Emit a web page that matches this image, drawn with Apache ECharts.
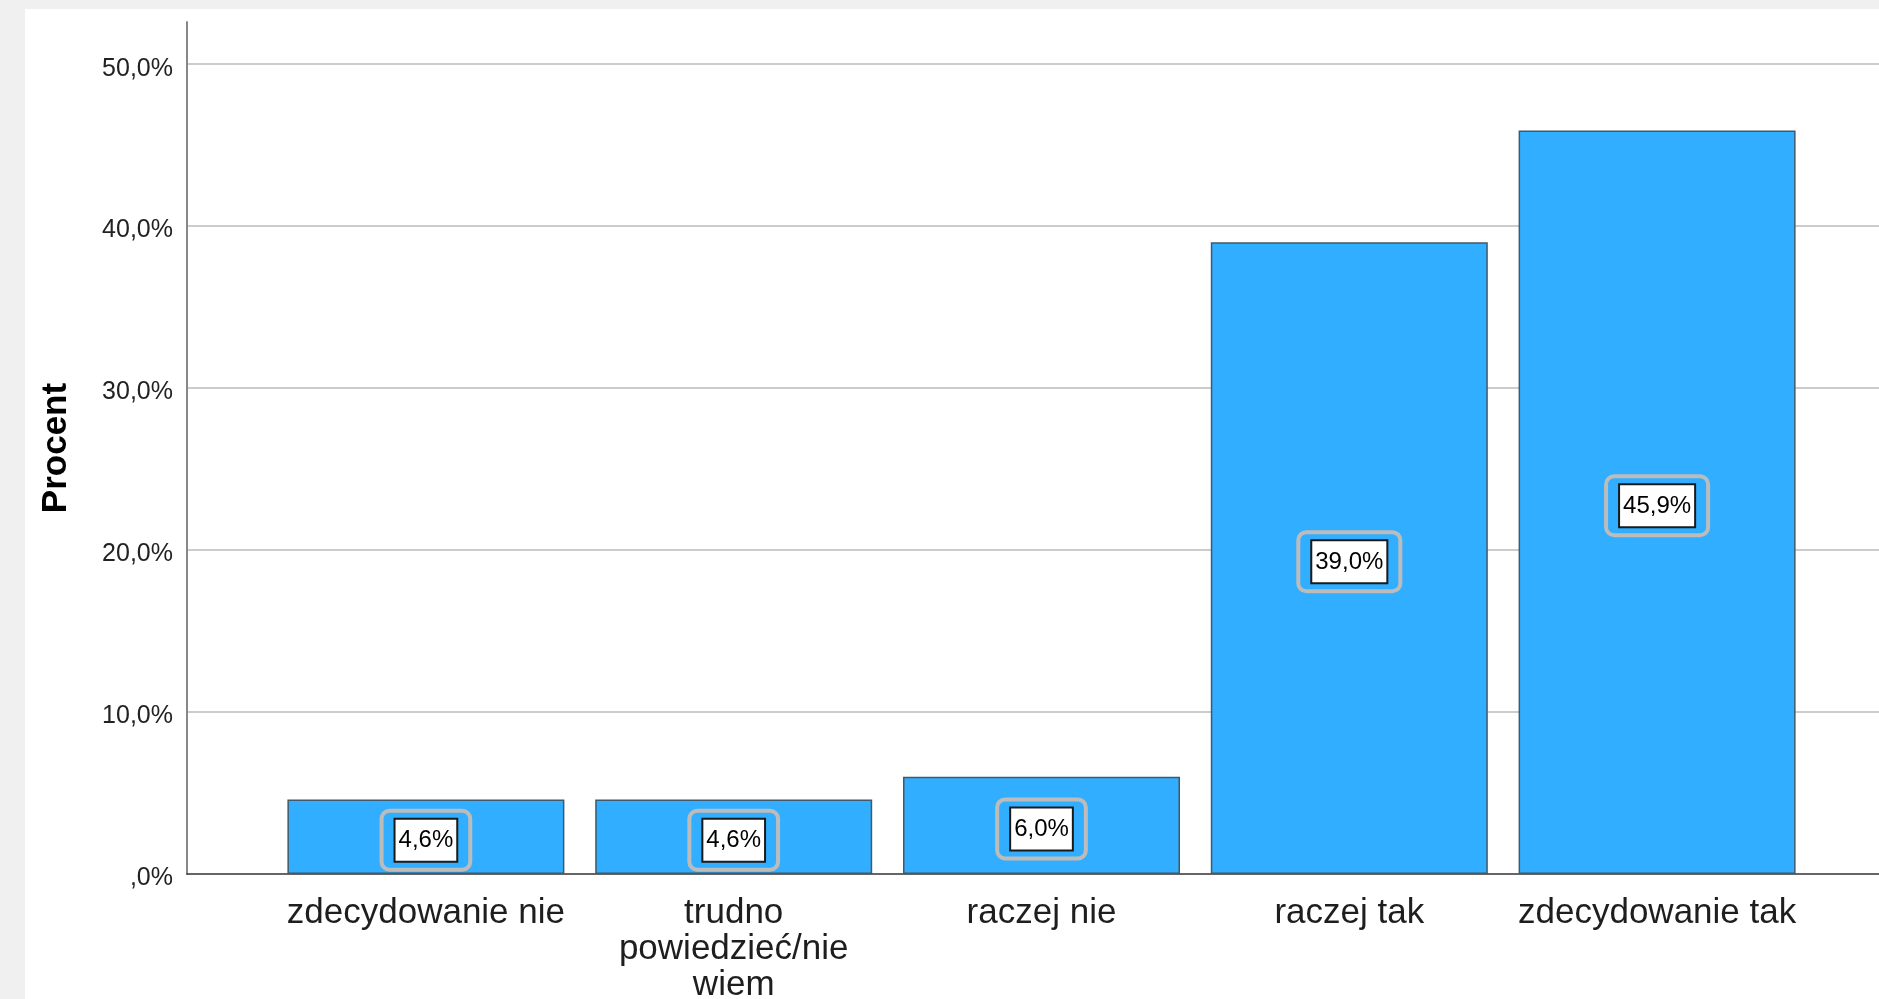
<!DOCTYPE html>
<html>
<head>
<meta charset="utf-8">
<script src="https://cdn.jsdelivr.net/npm/echarts@6/dist/echarts.min.js"></script>
<style>
  html, body { margin: 0; padding: 0; background: #f0f0f0; width: 1879px; height: 999px; overflow: hidden; }
  #chart { position: absolute; left: 25px; top: 9px; width: 1854px; height: 990px; }
</style>
</head>
<body>
<div id="chart"></div>
<script>
const categories = ['zdecydowanie nie', 'trudno powiedzieć/nie wiem', 'raczej nie', 'raczej tak', 'zdecydowanie tak'];
const percentValues = [4.6, 4.6, 6.0, 39.0, 45.9];
const valueLabels = ['4,6%', '4,6%', '6,0%', '39,0%', '45,9%'];
const yTickValues = [0, 10, 20, 30, 40, 50];
const yTickLabels = [',0%', '10,0%', '20,0%', '30,0%', '40,0%', '50,0%'];
const yAxisTitle = 'Procent';

const chart = echarts.init(document.getElementById('chart'), null, { renderer: 'canvas' });
const FONT = '"Liberation Sans", Arial, sans-serif';
const yMax = 52.6;

chart.setOption({
  backgroundColor: '#ffffff',
  animation: false,
  grid: [
    { left: 162, right: 0, top: 13, bottom: 125, outerBoundsMode: 'none', containLabel: false },
    { left: 247, right: 68, top: 13, bottom: 125, outerBoundsMode: 'none', containLabel: false }
  ],
  xAxis: [
    {
      type: 'category', gridIndex: 0, data: categories,
      axisLine: { show: true, lineStyle: { color: '#333333', width: 1.5 } },
      axisTick: { show: false }, axisLabel: { show: false }, splitLine: { show: false }
    },
    {
      type: 'category', gridIndex: 1, data: categories,
      axisLine: { show: false }, axisTick: { show: false },
      axisLabel: {
        show: true, interval: 0, margin: 21,
        fontFamily: FONT, fontSize: 35, lineHeight: 36, color: '#1e1e1e',
        formatter: function (v) { return v.length > 20 ? v.split(' ').join('\n') : v; }
      }
    }
  ],
  yAxis: [
    {
      type: 'value', gridIndex: 0, min: 0, max: yMax, interval: 10,
      name: yAxisTitle, nameLocation: 'middle', nameGap: 113, nameRotate: 90,
      nameTextStyle: { fontFamily: FONT, fontSize: 35, fontWeight: 'bold', color: '#000000' },
      axisLine: { show: true, lineStyle: { color: '#888888', width: 2 } },
      axisTick: { show: false },
      axisLabel: {
        margin: 14, showMaxLabel: false,
        formatter: function (v) {
          const i = yTickValues.indexOf(Math.round(v));
          return i >= 0 && Math.abs(v - yTickValues[i]) < 1e-6 ? '{t|' + yTickLabels[i] + '}' : '';
        },
        rich: {
          t: { fontFamily: FONT, fontSize: 25, color: '#222222', padding: [9, 0, 0, 0] }
        }
      },
      splitLine: { show: true, showMaxLine: false, showMinLine: false, lineStyle: { color: '#cccccc', width: 2 } }
    },
    {
      type: 'value', gridIndex: 1, min: 0, max: yMax, interval: 10, show: false,
      splitLine: { show: false }
    }
  ],
  series: [
    {
      type: 'bar', xAxisIndex: 1, yAxisIndex: 1,
      data: percentValues, barWidth: 277,
      itemStyle: { color: '#31aeff', borderColor: '#40596b', borderWidth: 1.5 },
      label: {
        show: true, position: 'inside', offset: [0, 3.5],
        formatter: function (p) { return '{v|' + valueLabels[p.dataIndex] + '}'; },
        padding: [9, 14, 9, 14], borderColor: '#bcbcbc', borderWidth: 2, borderRadius: 8,
        backgroundColor: 'transparent',
        rich: {
          v: {
            fontFamily: FONT, fontSize: 24, color: '#000000',
            backgroundColor: '#ffffff', borderColor: '#1a1a1a', borderWidth: 2,
            padding: [9, 3, 8, 3]
          }
        }
      }
    }
  ]
});
</script>
</body>
</html>
